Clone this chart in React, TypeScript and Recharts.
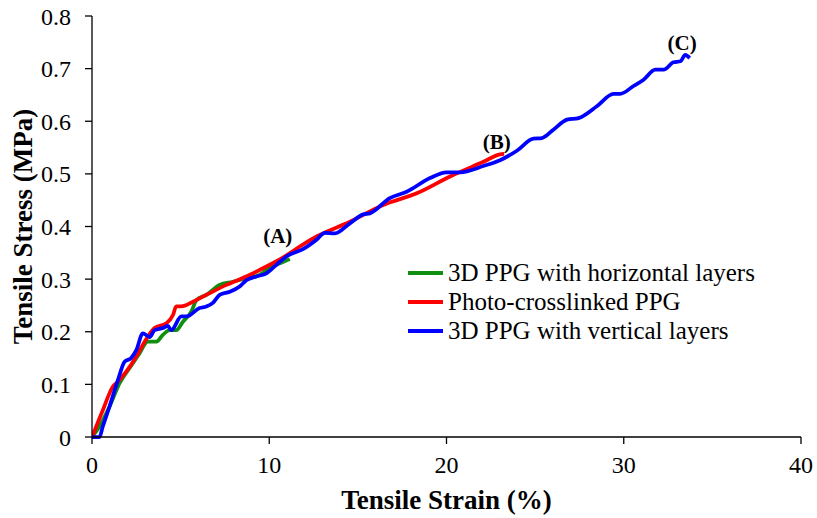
import React from 'react';
import { LineChart, Line, XAxis, YAxis, ReferenceDot } from 'recharts';

const xTicks = [0, 10, 20, 30, 40];
const yTicks = [0, 0.1, 0.2, 0.3, 0.4, 0.5, 0.6, 0.7, 0.8];

const horizontalLayers: [number, number][] = [
  [0, 0], [0.42, 0.02], [0.99, 0.058], [1.55, 0.102], [2.12, 0.131], [2.68, 0.159],
  [3.15, 0.181], [3.63, 0.181], [4.0, 0.194], [4.38, 0.203], [4.75, 0.203], [5.13, 0.219],
  [5.6, 0.238], [5.89, 0.26], [6.45, 0.27], [7.2, 0.289], [7.95, 0.295], [8.7, 0.302],
  [9.46, 0.308], [10.0, 0.321], [10.6, 0.33], [11.16, 0.338],
];

const photoCrosslinked: [number, number][] = [
  [0, 0], [0.61, 0.051], [1.18, 0.096], [1.46, 0.105], [1.93, 0.124], [2.5, 0.153],
  [2.97, 0.181], [3.53, 0.207], [4.19, 0.216], [4.57, 0.232], [4.75, 0.248], [5.04, 0.248],
  [5.7, 0.257], [6.45, 0.27], [7.58, 0.289], [8.7, 0.305], [9.84, 0.324], [10.97, 0.345],
  [11.72, 0.362], [12.67, 0.381], [14.55, 0.409], [16.43, 0.441], [18.32, 0.463],
  [20.2, 0.495], [22.08, 0.523], [23.02, 0.537], [23.25, 0.538],
];

const verticalLayers: [number, number][] = [
  [0, 0], [0.42, 0], [0.61, 0.02], [0.99, 0.058], [1.46, 0.108], [1.84, 0.143],
  [2.21, 0.15], [2.5, 0.165], [2.87, 0.197], [3.25, 0.19], [3.53, 0.203], [4.0, 0.207],
  [4.28, 0.211], [4.47, 0.203], [5.04, 0.229], [5.32, 0.229], [6.07, 0.245], [6.45, 0.248],
  [6.82, 0.255], [7.2, 0.27], [7.77, 0.276], [8.33, 0.286], [8.71, 0.298], [9.28, 0.305],
  [9.84, 0.311], [10.4, 0.327], [10.97, 0.343], [11.9, 0.357], [12.67, 0.375],
  [13.14, 0.388], [13.7, 0.387], [14.55, 0.406], [15.3, 0.423], [15.68, 0.425],
  [16.8, 0.454], [17.75, 0.466], [19.07, 0.492], [20.0, 0.503], [20.76, 0.503],
  [22.08, 0.515], [23.02, 0.526], [23.97, 0.544], [24.9, 0.567], [25.38, 0.568],
  [26.03, 0.584], [26.8, 0.603], [27.45, 0.606], [28.5, 0.629], [29.42, 0.652],
  [29.8, 0.652], [30.55, 0.667], [31.12, 0.679], [31.78, 0.698], [32.25, 0.698],
  [32.8, 0.712], [33.2, 0.714], [33.47, 0.726], [33.72, 0.72],
];

const seriesNames = [
  '3D PPG with horizontal layers',
  'Photo-crosslinked PPG',
  '3D PPG with vertical layers',
];
const seriesColors = ['#0f8f0f', '#ff0000', '#0000ff'];

const annotations = [
  { label: '(A)', x: 10.48, y: 0.382 },
  { label: '(B)', x: 22.84, y: 0.561 },
  { label: '(C)', x: 33.29, y: 0.75 },
];

const toPoints = (arr: [number, number][]) => arr.map(([x, y]) => ({ x, y }));
const seriesData = [horizontalLayers, photoCrosslinked, verticalLayers].map(toPoints);

const FONT = '"Liberation Serif", "Times New Roman", serif';

const XTick = (props: any) => {
  const { x, y, payload } = props;
  return (
    <text x={x} y={y} dy="0.71em" textAnchor="middle" fill="#000" fontSize={24} fontFamily={FONT}>
      {String(payload.value)}
    </text>
  );
};

const YTick = (props: any) => {
  const { x, y, payload } = props;
  return (
    <text x={x} y={y} dy="0.355em" textAnchor="end" fill="#000" fontSize={24} fontFamily={FONT}>
      {String(payload.value)}
    </text>
  );
};

const LegendBox = () => (
  <div
    style={{
      position: 'absolute',
      left: 408,
      top: 258,
      fontFamily: FONT,
      fontSize: 25,
      color: '#000',
    }}
  >
    {seriesNames.map((n, i) => (
      <div key={n} style={{ display: 'flex', alignItems: 'center', height: 29 }}>
        <div style={{ width: 35, height: 4, background: seriesColors[i], marginRight: 5 }} />
        <span style={{ lineHeight: '29px', whiteSpace: 'nowrap' }}>{n}</span>
      </div>
    ))}
  </div>
);

export default function App() {
  return (
    <div style={{ position: 'absolute', left: 0, top: 0, width: 817, height: 518, background: '#fff' }}>
      <LineChart
        width={817}
        height={518}
        margin={{ top: 16, right: 16, bottom: 0, left: 0 }}
        style={{ fontFamily: FONT }}
      >
        <XAxis
          type="number"
          dataKey="x"
          domain={[0, 40]}
          ticks={xTicks}
          allowDataOverflow
          height={81}
          tickSize={7}
          tickMargin={12}
          axisLine={{ stroke: '#000', strokeWidth: 1.3 }}
          tickLine={{ stroke: '#000', strokeWidth: 1.3 }}
          tick={<XTick />}
          label={{
            value: 'Tensile Strain (%)',
            position: 'insideBottom',
            offset: 9,
            style: { fill: '#000', fontSize: 27, fontWeight: 'bold', fontFamily: FONT },
          }}
        />
        <YAxis
          type="number"
          dataKey="y"
          domain={[0, 0.8]}
          ticks={yTicks}
          width={92}
          tickSize={7}
          tickMargin={14}
          axisLine={{ stroke: '#000', strokeWidth: 1.3 }}
          tickLine={{ stroke: '#000', strokeWidth: 1.3 }}
          tick={<YTick />}
          label={{
            value: 'Tensile Stress (MPa)',
            angle: -90,
            position: 'insideLeft',
            offset: 22,
            style: { textAnchor: 'middle', fill: '#000', fontSize: 27, fontWeight: 'bold', fontFamily: FONT },
          }}
        />
        {seriesData.map((d, i) => (
          <Line
            key={seriesNames[i]}
            data={d}
            dataKey="y"
            name={seriesNames[i]}
            type="monotone"
            stroke={seriesColors[i]}
            strokeWidth={3.75}
            dot={false}
            activeDot={false}
            isAnimationActive={false}
          />
        ))}
        {annotations.map((a) => (
          <ReferenceDot
            key={a.label}
            x={a.x}
            y={a.y}
            r={0}
            fill="none"
            stroke="none"
            ifOverflow="visible"
            label={{
              value: a.label,
              position: 'center',
              style: { fill: '#000', fontSize: 21, fontWeight: 'bold', fontFamily: FONT },
            }}
          />
        ))}
      </LineChart>
      <LegendBox />
    </div>
  );
}
